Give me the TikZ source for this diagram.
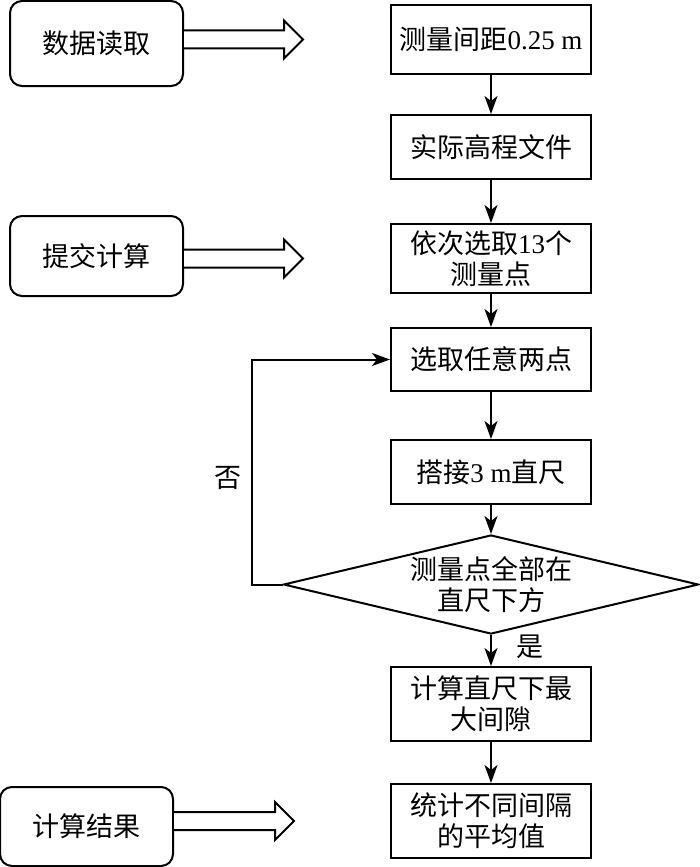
\documentclass[tikz,border=0pt]{standalone}
\usepackage{fontspec}
\setmainfont{Liberation Serif}
\newfontfamily\cjk{Noto Sans CJK SC}
\newcommand{\zh}[1]{{\cjk #1}}
\usetikzlibrary{shapes.geometric,arrows.meta}

\tikzset{
  proc/.style={draw, minimum width=200pt, inner sep=0pt, align=center},
  task/.style={draw, rounded corners=12pt, minimum width=173pt, inner sep=0pt},
  hollow/.style={draw, fill=white},
  >={Stealth[length=18pt,width=13pt,inset=5pt]}
}

\begin{document}
\begin{tikzpicture}[x=1pt, y=-1pt, line width=2pt, font=\fontsize{27}{31}\selectfont]
  \useasboundingbox (0,0) rectangle (700,867);
  % main column
  \node (spacing) [proc, minimum height=69pt] at (491,39.5)  {\zh{测量间距}0.25 m};
  \node (elev)    [proc, minimum height=64pt] at (491,147)   {\zh{实际高程文件}};
  \node (select)  [proc, minimum height=69pt] at (491,258.5) {\zh{依次选取}13\zh{个}\\\zh{测量点}};
  \node (pick)    [proc, minimum height=63pt] at (491,359.5) {\zh{选取任意两点}};
  \node (ruler)   [proc, minimum height=64pt] at (491,472)   {\zh{搭接}3 m\zh{直尺}};
  \node (check)   [diamond, draw, aspect=4.2, minimum width=415pt, minimum height=99pt,
                   inner sep=0pt, align=center] at (491,584.5) {\zh{测量点全部在}\\\zh{直尺下方}};
  \node (gap)     [proc, minimum height=74pt] at (491,704)   {\zh{计算直尺下最}\\\zh{大间隙}};
  \node (mean)    [proc, minimum height=74pt] at (491,821)   {\zh{统计不同间隔}\\\zh{的平均值}};
  % left column
  \node (read)    [task, minimum height=85pt] at (96.5,43.5) {\zh{数据读取}};
  \node (submit)  [task, minimum height=80pt] at (96.5,256)  {\zh{提交计算}};
  \node (result)  [task, minimum height=79pt] at (86.5,826.5) {\zh{计算结果}};
  \node (no)  at (228,478) {\zh{否}};
  \node (yes) at (530,647) {\zh{是}};

  \path[->]
  (spacing) edge (elev)
  (elev)    edge (select)
  (select)  edge (pick)
  (pick)    edge (ruler)
  (ruler)   edge (check)
  (check)   edge (gap)
  (gap)     edge (mean)
  ;
  \draw[->] (check.west) -- ++(-31,0) |- (pick.west);

  \draw[hollow] (read.east |- spacing) ++(0,-9) -- ++(100,0) -- ++(0,-10) -- ++(19,19)
    -- ++(-19,19) -- ++(0,-10) -- ++(-100,0);
  \draw[hollow] (submit.east |- select) ++(0,-9) -- ++(100,0) -- ++(0,-10) -- ++(19,19)
    -- ++(-19,19) -- ++(0,-10) -- ++(-100,0);
  \draw[hollow] (result.east |- mean) ++(0,-9) -- ++(101,0) -- ++(0,-10) -- ++(19,19)
    -- ++(-19,19) -- ++(0,-10) -- ++(-101,0);
\end{tikzpicture}
\end{document}
